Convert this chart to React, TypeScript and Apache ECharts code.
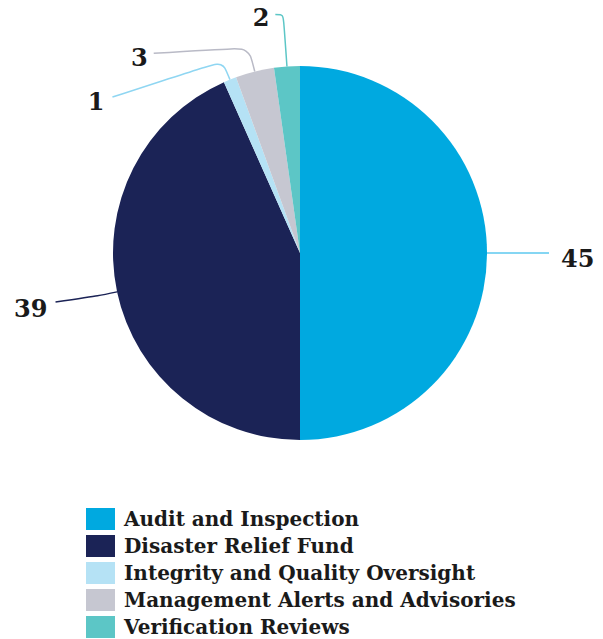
import React, { useEffect, useRef } from "react";
import * as echarts from "echarts";

const categories = [
  "Audit and Inspection",
  "Disaster Relief Fund",
  "Integrity and Quality Oversight",
  "Management Alerts and Advisories",
  "Verification Reviews",
];
const values = [45, 39, 1, 3, 2];
const colors = ["#00a9e0", "#1b2356", "#b5e2f5", "#c6c7d1", "#5cc6c6"];
const lineColors = ["#5cc8ef", "#1b2356", "#8fd6f2", "#b9bac6", "#5cc6c6"];
const lineLengths = [
  [40, 22, 12],
  [20, 42, 8],
  [20, 110, 8],
  [25, 95, 6],
  [52, 8, 6],
];
const labelShiftY = [5, 12, 40, 10, 3];
const lineEndShiftY = [0, 6, 36, 6, 0];

export default function App() {
  const ref = useRef<HTMLDivElement>(null);
  useEffect(() => {
    document.body.style.margin = "0";
    const chart = echarts.init(ref.current!, null, { renderer: "svg" });
    const font = "'DejaVu Serif', serif";
    chart.setOption({
      animation: false,
      backgroundColor: "#ffffff",
      legend: {
        orient: "vertical",
        left: 86,
        top: 508,
        height: 135,
        padding: 0,
        itemWidth: 29,
        itemHeight: 22,
        itemGap: 5,
        icon: "rect",
        selectedMode: false,
        textStyle: {
          fontFamily: font,
          fontWeight: "bold",
          fontSize: 20,
          lineHeight: 22,
          color: "#1a1a1a",
          padding: [0, 0, 0, 4],
        },
        data: categories,
      },
      series: [
        {
          type: "pie",
          center: [300, 253],
          radius: 187,
          startAngle: 90,
          clockwise: true,
          avoidLabelOverlap: false,
          label: {
            show: true,
            formatter: "{c}",
            fontFamily: font,
            fontWeight: "bold",
            fontSize: 24,
            color: "#1a1a1a",
          },
          labelLine: { show: true, smooth: 0.3, lineStyle: { width: 1.5 } },
          labelLayout: (p: any) => {
            const i = p.dataIndex;
            const out: any = { dy: labelShiftY[i] };
            if (p.labelLinePoints && p.labelLinePoints.length) {
              const pts = p.labelLinePoints.map((q: number[]) => [q[0], q[1]]);
              pts[pts.length - 1][1] += lineEndShiftY[i];
              out.labelLinePoints = pts;
            }
            return out;
          },
          data: categories.map((name, i) => ({
            name,
            value: values[i],
            itemStyle: { color: colors[i] },
            label: { distanceToLabelLine: lineLengths[i][2] },
            labelLine: {
              length: lineLengths[i][0],
              length2: lineLengths[i][1],
              lineStyle: { color: lineColors[i] },
            },
          })),
        },
      ],
    });
    return () => chart.dispose();
  }, []);
  return <div ref={ref} style={{ width: 603, height: 639 }} />;
}
